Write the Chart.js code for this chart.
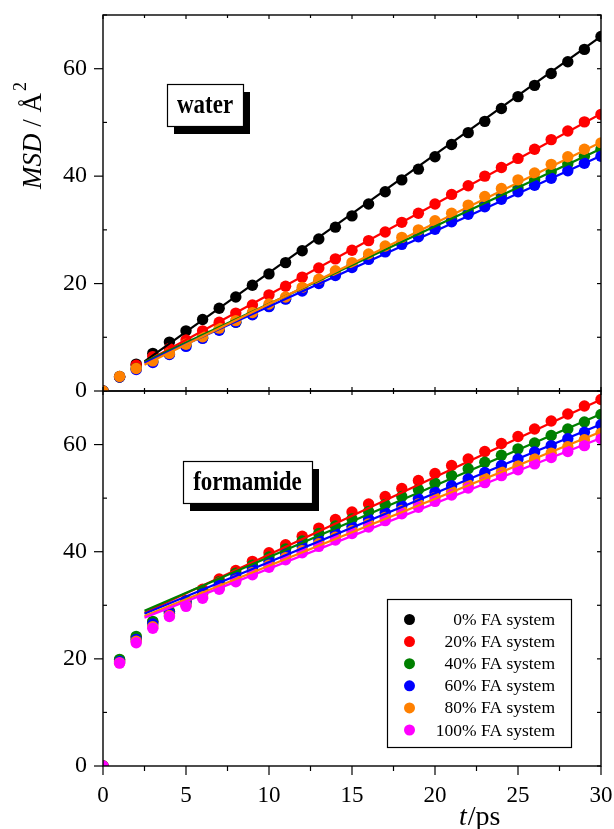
<!DOCTYPE html>
<html>
<head>
<meta charset="utf-8">
<script src="https://cdn.jsdelivr.net/npm/chart.js@4"></script>
<style>
html, body { margin: 0; padding: 0; background: #fff; }
#wrap { position: relative; width: 614px; height: 829px; overflow: hidden; }
canvas { position: absolute; left: 0; }
#cvW { top: 0; }
#cvF { top: 380px; }
</style>
</head>
<body>
<div id="wrap">
  <canvas id="cvF" width="614" height="449"></canvas>
  <canvas id="cvW" width="614" height="400"></canvas>
</div>
<script>
// --- dados ---
const time = [0, 1, 2, 3, 4, 5, 6, 7, 8, 9, 10, 11, 12, 13, 14, 15, 16, 17, 18, 19, 20, 21, 22, 23, 24, 25, 26, 27, 28, 29, 30];

// painel "water"
const water0  = [0, 2.7, 5.0, 7.0, 9.1, 11.2, 13.3, 15.4, 17.5, 19.7, 21.8, 23.9, 26.1, 28.3, 30.5, 32.6, 34.8, 37.1, 39.3, 41.3, 43.6, 45.9, 48.1, 50.2, 52.6, 54.8, 56.9, 59.1, 61.3, 63.6, 66.0];
const water20 = [0, 2.6, 4.8, 6.4, 7.9, 9.5, 11.2, 12.8, 14.5, 16.0, 17.9, 19.5, 21.2, 22.9, 24.6, 26.2, 28.0, 29.6, 31.4, 33.1, 34.8, 36.6, 38.2, 40.0, 41.6, 43.3, 45.0, 46.8, 48.4, 50.1, 51.5];
const water40 = [0, 2.6, 4.2, 5.5, 6.9, 8.5, 9.9, 11.4, 12.8, 14.3, 15.8, 17.2, 18.8, 20.3, 21.8, 23.3, 24.7, 26.2, 27.6, 29.1, 30.6, 32.0, 33.5, 34.9, 36.4, 37.8, 39.3, 40.8, 42.3, 43.7, 45.0];
const water60 = [0, 2.6, 4.0, 5.3, 6.8, 8.3, 9.8, 11.3, 12.8, 14.2, 15.7, 17.1, 18.6, 20.0, 21.5, 23.0, 24.5, 25.9, 27.3, 28.7, 30.1, 31.5, 32.9, 34.3, 35.7, 37.1, 38.3, 39.6, 41.0, 42.4, 43.7];
const water80 = [0, 2.7, 4.2, 5.6, 7.0, 8.7, 10.1, 11.7, 13.1, 14.6, 16.2, 17.5, 19.3, 20.8, 22.4, 23.9, 25.5, 27.0, 28.6, 30.0, 31.7, 33.1, 34.6, 36.2, 37.7, 39.3, 40.6, 42.2, 43.6, 45.0, 46.2];

// painel "formamide"
const fa20  = [0, 19.8, 24.0, 26.9, 28.8, 30.9, 33.0, 34.9, 36.5, 38.2, 39.8, 41.3, 42.9, 44.4, 46.0, 47.4, 48.9, 50.3, 51.8, 53.3, 54.6, 56.1, 57.3, 58.7, 60.2, 61.5, 62.9, 64.4, 65.7, 67.2, 68.4];
const fa40  = [0, 19.9, 24.2, 27.0, 28.9, 30.8, 32.6, 34.4, 36.0, 37.5, 39.0, 40.5, 42.0, 43.4, 44.8, 46.1, 47.5, 48.8, 50.3, 51.6, 52.8, 54.2, 55.5, 56.7, 58.0, 59.2, 60.3, 61.7, 62.9, 64.2, 65.6];
const fa60  = [0, 19.5, 23.6, 26.5, 28.5, 30.4, 32.1, 33.7, 35.3, 36.8, 38.2, 39.6, 41.0, 42.2, 43.5, 44.7, 46.1, 47.3, 48.6, 49.9, 51.1, 52.3, 53.6, 54.8, 56.1, 57.3, 58.6, 59.8, 61.1, 62.3, 63.7];
const fa80  = [0, 19.3, 23.3, 26.0, 28.1, 30.0, 31.6, 33.2, 34.7, 36.1, 37.5, 38.9, 40.2, 41.5, 42.7, 43.9, 45.2, 46.4, 47.7, 48.9, 50.1, 51.3, 52.5, 53.7, 54.9, 56.0, 57.3, 58.4, 59.6, 60.9, 62.1];
const fa100 = [0, 19.2, 23.0, 25.7, 27.9, 29.8, 31.3, 33.0, 34.4, 35.7, 37.1, 38.5, 39.8, 41.0, 42.2, 43.4, 44.6, 45.8, 47.1, 48.3, 49.4, 50.6, 51.9, 52.9, 54.2, 55.3, 56.4, 57.6, 58.7, 59.8, 61.1];

// retas de ajuste (valor em t = 2.5 e t = 30)
const fitTime = [2.5, 30];
const waterFitStart = [5.5, 5.3, 5.4, 5.2, 4.9];
const waterFitEnd   = [66.0, 51.6, 45.1, 43.8, 46.3];
const faFitStart = [28.6, 29.0, 28.4, 28.0, 27.7];
const faFitEnd   = [68.4, 65.7, 63.8, 62.4, 61.2];

const legendLabels = ['0% FA system', '20% FA system', '40% FA system', '60% FA system', '80% FA system', '100% FA system'];
const legendColors = ['#000000', '#ff0000', '#008000', '#0000ff', '#ff8000', '#ff00ff'];

const xTicks = [0, 5, 10, 15, 20, 25, 30];
const xMinor = [2.5, 7.5, 12.5, 17.5, 22.5, 27.5];
const yTicks = [0, 20, 40, 60];
const yMinor = [10, 30, 50, 70];

Chart.defaults.font.family = "'Liberation Serif', 'DejaVu Serif', serif";
Chart.defaults.color = '#000';

const SERIF = "'Liberation Serif', serif";

// --- datasets ---
const buildSets = (series, colors, fitA, fitB) => {
    const sets = [];
    series.forEach((vals, i) => {
        sets.push({
            data: time.map((t, k) => ({ x: t, y: vals[k] })),
            showLine: false,
            pointRadius: 5.7,
            pointBackgroundColor: colors[i],
            pointBorderColor: colors[i],
            pointBorderWidth: 0,
            clip: 0,
            order: 40 - i
        });
    });
    series.forEach((vals, i) => {
        sets.push({
            data: fitTime.map((t, k) => ({ x: t, y: [fitA[i], fitB[i]][k] })),
            showLine: true,
            borderColor: colors[i],
            borderWidth: 2.2,
            pointRadius: 0,
            clip: 0,
            order: 20 - i
        });
    });
    return sets;
};

// --- decoração: moldura, ticks, caixas de texto ---
const line = (ctx, x1, y1, x2, y2) => {
    ctx.beginPath(); ctx.moveTo(x1, y1); ctx.lineTo(x2, y2); ctx.stroke();
};

const tagBox = (ctx, text, x, y, w, h) => {
    ctx.fillStyle = '#000';
    ctx.fillRect(x + 7, y + 8, w, h);
    ctx.fillStyle = '#fff';
    ctx.fillRect(x, y, w, h);
    ctx.strokeStyle = '#000';
    ctx.lineWidth = 1.2;
    ctx.strokeRect(x + 0.5, y + 0.5, w, h);
    ctx.save();
    ctx.translate(x + w / 2, y + h / 2 + 1);
    ctx.scale(1, 1.2);
    ctx.fillStyle = '#000';
    ctx.font = `bold 23px ${SERIF}`;
    ctx.textAlign = 'center';
    ctx.textBaseline = 'middle';
    ctx.fillText(text, 0, 0);
    ctx.restore();
};

const frameTicks = (chart, bottomOut) => {
    const { ctx, chartArea: a, scales: { x, y } } = chart;
    ctx.save();
    ctx.strokeStyle = '#000';
    ctx.lineWidth = 1.4;
    ctx.strokeRect(a.left, a.top, a.right - a.left, a.bottom - a.top);
    ctx.lineWidth = 1.2;
    yTicks.forEach(v => {
        const p = y.getPixelForValue(v);
        line(ctx, a.left - 9, p, a.left, p);
        line(ctx, a.right - 4, p, a.right, p);
    });
    yMinor.forEach(v => {
        const p = y.getPixelForValue(v);
        line(ctx, a.left, p, a.left + 4, p);
        line(ctx, a.right - 4, p, a.right, p);
    });
    xTicks.forEach(v => {
        const p = x.getPixelForValue(v);
        if (bottomOut) line(ctx, p, a.bottom, p, a.bottom + 9);
        else line(ctx, p, a.bottom - 4, p, a.bottom);
        line(ctx, p, a.top, p, a.top + 4);
    });
    xMinor.forEach(v => {
        const p = x.getPixelForValue(v);
        if (bottomOut) line(ctx, p, a.bottom, p, a.bottom + 5);
        else line(ctx, p, a.bottom - 3, p, a.bottom);
        line(ctx, p, a.top, p, a.top + 3);
    });
    ctx.restore();
};

const waterDeco = {
    id: 'waterDeco',
    afterDraw(chart) {
        const ctx = chart.ctx;
        frameTicks(chart, false);
        ctx.save();
        tagBox(ctx, 'water', 167, 84, 76, 42);
        // título do eixo y
        ctx.translate(41, 189);
        ctx.rotate(-Math.PI / 2);
        ctx.fillStyle = '#000';
        ctx.textBaseline = 'alphabetic';
        ctx.textAlign = 'left';
        let cx = 0;
        ctx.font = `italic 27px ${SERIF}`;
        ctx.fillText('MSD', cx, 0);
        cx += ctx.measureText('MSD').width;
        ctx.font = `27px ${SERIF}`;
        ctx.fillText(' / Å', cx, 0);
        cx += ctx.measureText(' / Å').width + 2;
        ctx.font = `18px ${SERIF}`;
        ctx.fillText('2', cx, -15);
        ctx.restore();
    }
};

const faDeco = {
    id: 'faDeco',
    afterDraw(chart) {
        const ctx = chart.ctx;
        frameTicks(chart, true);
        ctx.save();
        tagBox(ctx, 'formamide', 183, 81, 129, 42);

        // legenda
        const lx = 387, ly = 219, lw = 184, lh = 148;
        ctx.strokeStyle = '#000';
        ctx.lineWidth = 1.2;
        ctx.fillStyle = '#fff';
        ctx.fillRect(lx, ly, lw, lh);
        ctx.strokeRect(lx + 0.5, ly + 0.5, lw, lh);
        ctx.font = `17.5px ${SERIF}`;
        ctx.textAlign = 'right';
        ctx.textBaseline = 'middle';
        legendLabels.forEach((lab, i) => {
            const ry = ly + 20.5 + i * 22.1;
            ctx.fillStyle = legendColors[i];
            ctx.beginPath();
            ctx.arc(409.5, ry, 5.5, 0, Math.PI * 2);
            ctx.fill();
            ctx.fillStyle = '#000';
            ctx.fillText(lab, 555, ry + 1);
        });

        // título do eixo x
        ctx.textAlign = 'left';
        ctx.textBaseline = 'alphabetic';
        ctx.font = `italic 28px ${SERIF}`;
        ctx.fillText('t', 459, 445);
        const tw = ctx.measureText('t').width;
        ctx.font = `28px ${SERIF}`;
        ctx.fillText('/ps', 459 + tw + 1, 445);
        ctx.restore();
    }
};

const makeChart = (canvas, datasets, isBottom, plugin) => new Chart(canvas, {
    type: 'scatter',
    data: { datasets },
    options: {
        responsive: false,
        animation: false,
        devicePixelRatio: 1,
        layout: { padding: isBottom ? { top: 11, right: 13, bottom: 0, left: 0 } : { top: 15, right: 13, bottom: 9, left: 0 } },
        plugins: { legend: { display: false }, tooltip: { enabled: false } },
        scales: {
            x: {
                type: 'linear', min: 0, max: 30,
                display: isBottom,
                grid: { display: false }, border: { display: false },
                ticks: { stepSize: 5, includeBounds: false, padding: 8, font: { size: 23 }, color: '#000', maxRotation: 0 },
                afterFit: s => {
                    s.height = isBottom ? 63 : 0;
                    s.paddingLeft = 0; s.paddingRight = 0;
                }
            },
            y: {
                type: 'linear', min: 0, max: 70,
                grid: { display: false }, border: { display: false },
                ticks: { stepSize: 20, includeBounds: false, padding: 8, font: { size: 24 }, color: '#000' },
                afterFit: s => {
                    s.width = 103;
                    s.paddingTop = 0; s.paddingBottom = 0;
                }
            }
        }
    },
    plugins: [plugin]
});

makeChart(document.getElementById('cvW'),
    buildSets([water0, water20, water40, water60, water80], legendColors.slice(0, 5), waterFitStart, waterFitEnd),
    false, waterDeco);

makeChart(document.getElementById('cvF'),
    buildSets([fa20, fa40, fa60, fa80, fa100], legendColors.slice(1), faFitStart, faFitEnd),
    true, faDeco);
</script>
</body>
</html>
